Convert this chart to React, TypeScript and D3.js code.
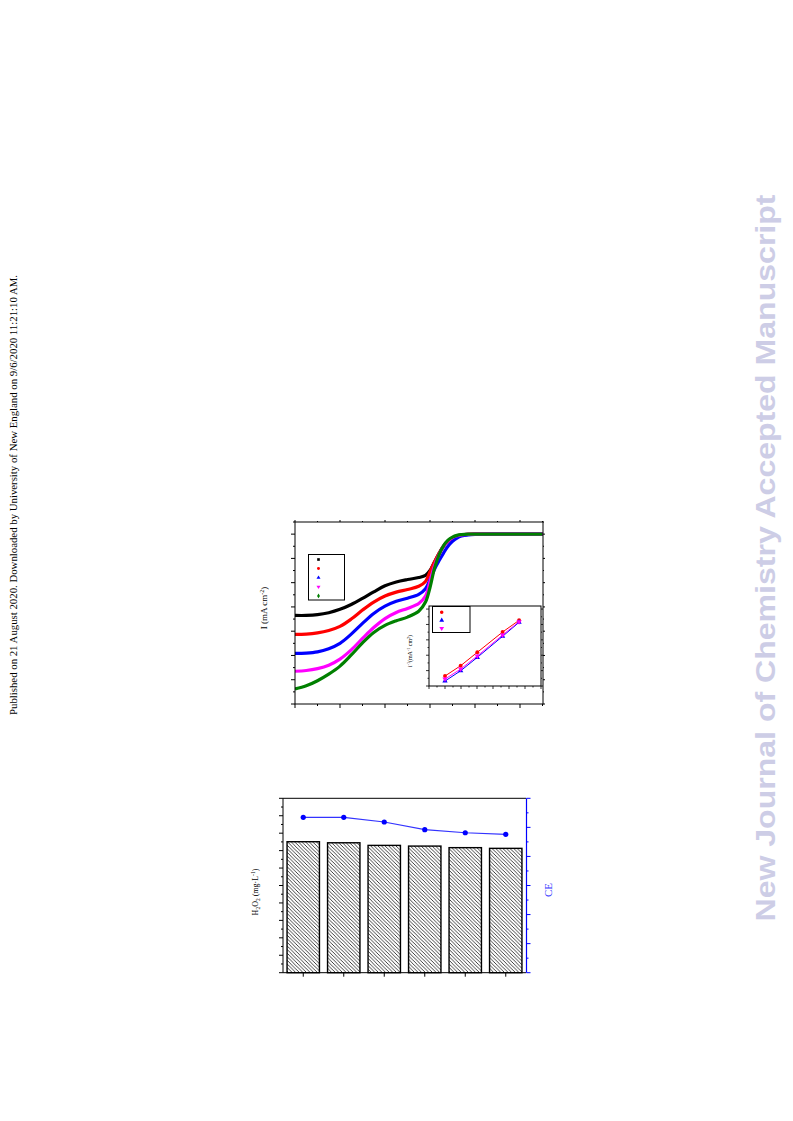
import React from "react";
import * as d3 from "d3";

// ---------- Top chart (LSV curves) ----------
const potentialGrid = [0, 0.25, 0.5, 0.75, 1.0, 1.25, 1.5, 1.75, 2.0, 2.25, 2.5, 2.75, 2.9, 3.0, 3.1, 3.2, 3.3, 3.4, 3.5, 3.6, 3.7, 3.85, 4.0, 4.5, 5.0, 5.5];
const curveBlack = [-3.35, -3.35, -3.32, -3.24, -3.1, -2.9, -2.65, -2.38, -2.13, -1.97, -1.87, -1.79, -1.7, -1.5, -1.15, -0.8, -0.5, -0.3, -0.16, -0.08, -0.04, -0.01, 0, 0, 0, 0];
const curveRed = [-4.13, -4.12, -4.07, -3.97, -3.8, -3.5, -3.13, -2.8, -2.55, -2.39, -2.28, -2.15, -1.95, -1.55, -1.15, -0.8, -0.5, -0.3, -0.16, -0.08, -0.04, -0.01, 0, 0, 0, 0];
const curveBlue = [-4.91, -4.9, -4.85, -4.72, -4.5, -4.12, -3.68, -3.27, -2.97, -2.77, -2.64, -2.48, -2.25, -1.88, -1.45, -1.1, -0.78, -0.5, -0.3, -0.16, -0.08, -0.03, -0.01, 0, 0, 0];
const curveMagenta = [-5.65, -5.62, -5.54, -5.4, -5.15, -4.77, -4.3, -3.85, -3.48, -3.23, -3.06, -2.86, -2.55, -1.95, -1.3, -0.85, -0.5, -0.28, -0.14, -0.07, -0.03, -0.01, 0, 0, 0, 0];
const curveGreen = [-6.38, -6.25, -6.04, -5.77, -5.44, -4.98, -4.48, -4.05, -3.76, -3.57, -3.42, -3.18, -2.8, -2.2, -1.4, -0.85, -0.48, -0.25, -0.12, -0.05, -0.02, 0, 0, 0, 0, 0];
const seriesColors = ["#000000", "#ff0000", "#0000ff", "#ff00ff", "#008000"];
const mainXTicks = [0, 1, 2, 3, 4, 5];
const mainYTicks = [-7, -6, -5, -4, -3, -2, -1, 0];

// inset (Koutecky-Levich)
const insetX = [1.0, 1.98, 3.02, 4.6, 5.63];
const insetRed = [0.65, 1.32, 2.19, 3.51, 4.27];
const insetBlue = [0.32, 0.99, 1.86, 3.23, 4.14];
const insetMagenta = [0.45, 1.1, 1.95, 3.31, 4.18];
const insetColors = ["#ff0000", "#0000ff", "#ff00ff"];
const insetYTicks = [0, 1, 2, 3, 4, 5];
const insetXTicks = [0, 1, 2, 3, 4, 5, 6, 7];

// ---------- Bottom chart ----------
const cycles = ["1", "2", "3", "4", "5", "6"];
const h2o2Values = [7.51, 7.45, 7.3, 7.26, 7.17, 7.13];
const ceValues = [106.9, 106.9, 103.7, 98.4, 96.3, 95.2];
const leftTicks = [0, 1, 2, 3, 4, 5, 6, 7, 8, 9, 10];
const rightTicks = [0, 20, 40, 60, 80, 100, 120];

const serif = "'Liberation Serif', 'Times New Roman', serif";

export default function App() {
  // main scales
  const x = d3.scaleLinear().domain([0, 5.5]).range([295, 542.5]);
  const y = d3.scaleLinear().domain([-7, 0.5]).range([704, 522]);
  const line = d3
    .line<[number, number]>()
    .x((d) => x(d[0]))
    .y((d) => y(d[1]))
    .curve(d3.curveCatmullRom.alpha(0.5));
  const curves = [curveBlack, curveRed, curveBlue, curveMagenta, curveGreen];
  const symbols = [d3.symbolSquare, d3.symbolCircle, d3.symbolTriangle, d3.symbolTriangle, d3.symbolDiamond];
  const symbolRot = [0, 0, 0, 180, 0];

  // inset scales
  const ix = d3.scaleLinear().domain([0, 7]).range([429, 541]);
  const iy = d3.scaleLinear().domain([0, 5.2]).range([686, 606]);
  const insetSeries = [insetRed, insetBlue, insetMagenta];
  const insetSymbols = [d3.symbolCircle, d3.symbolTriangle, d3.symbolTriangle];
  const insetRot = [0, 0, 180];
  const iline = d3
    .line<[number, number]>()
    .x((d) => ix(d[0]))
    .y((d) => iy(d[1]));

  // bottom scales
  const bx = d3.scaleBand().domain(cycles).range([283, 526]).paddingInner(0.2).paddingOuter(0.1);
  const yl = d3.scaleLinear().domain([0, 10]).range([972.7, 798.3]);
  const yr = d3.scaleLinear().domain([0, 120]).range([972.7, 798.3]);
  const ceLine = d3
    .line<number>()
    .x((_, i) => (bx(cycles[i]) as number) + bx.bandwidth() / 2)
    .y((d) => yr(d));

  const minorMainX = d3.range(0, 5.51, 0.5);
  const minorMainY = d3.range(-7, 0.51, 0.5);
  const minorLeft = d3.range(0, 10.01, 0.5);
  const minorRight = d3.range(0, 120.1, 10);
  const minorInsetY = d3.range(0, 5.21, 0.5);
  const minorInsetX = d3.range(0, 7.01, 0.5);

  return (
    <svg
      width={793}
      height={1121}
      style={{ position: "absolute", left: 0, top: 0, background: "#fff" }}
      fontFamily={serif}
    >
      <defs>
        <pattern id="hatch" patternUnits="userSpaceOnUse" width={3.6} height={3.6}>
          <path d="M-1,-1 L4.6,4.6 M-1,2.6 L1,4.6 M2.6,-1 L4.6,1" stroke="#111" strokeWidth={0.8} />
        </pattern>
        <clipPath id="mainClip">
          <rect x={295} y={522} width={248} height={182} />
        </clipPath>
      </defs>

      {/* side texts */}
      <text
        transform="translate(17,495) rotate(-90)"
        textAnchor="middle"
        fontSize={10}
        fill="#000"
        textLength={440}
        lengthAdjust="spacingAndGlyphs"
      >
        Published on 21 August 2020. Downloaded by University of New England on 9/6/2020 11:21:10 AM.
      </text>
      <text
        transform="translate(775,558) rotate(-90)"
        textAnchor="middle"
        fontSize={28}
        fontWeight="bold"
        fontFamily="'Liberation Sans', Arial, sans-serif"
        fill="#cdcde6"
        textLength={727}
        lengthAdjust="spacingAndGlyphs"
      >
        New Journal of Chemistry Accepted Manuscript
      </text>

      {/* ===== Top chart ===== */}
      <g>
        <g clipPath="url(#mainClip)">
          {curves.map((c, i) => (
            <path
              key={i}
              d={line(potentialGrid.map((p, k) => [p, c[k]] as [number, number])) as string}
              fill="none"
              stroke={seriesColors[i]}
              strokeWidth={3.2}
            />
          ))}
        </g>
        <rect x={295} y={522} width={248} height={182} fill="none" stroke="#000" strokeWidth={1} />
        {minorMainX.map((t) => {
          const major = mainXTicks.includes(t);
          return (
            <g key={"mx" + t}>
              <line x1={x(t)} x2={x(t)} y1={704} y2={704 + (major ? 4 : 2)} stroke="#000" />
              <line x1={x(t)} x2={x(t)} y1={522} y2={522 - (major ? 2 : 1)} stroke="#000" />
            </g>
          );
        })}
        {minorMainY.map((t) => {
          const major = mainYTicks.includes(t);
          return (
            <g key={"my" + t}>
              <line x1={295} x2={295 - (major ? 4 : 2)} y1={y(t)} y2={y(t)} stroke="#000" />
              <line x1={543} x2={543 + (major ? 2 : 1)} y1={y(t)} y2={y(t)} stroke="#000" />
            </g>
          );
        })}
        <text transform="translate(267,608) rotate(-90)" textAnchor="middle" fontSize={9}>
          I (mA cm<tspan dy={-3} fontSize={6}>-2</tspan>
          <tspan dy={3}>)</tspan>
        </text>
        {/* legend */}
        <rect x={308.5} y={554.5} width={36} height={45.5} fill="#fff" stroke="#000" strokeWidth={1} />
        {seriesColors.map((c, i) => (
          <path
            key={"lg" + i}
            transform={`translate(318.5,${559.5 + i * 9.1}) rotate(${symbolRot[i]})`}
            d={d3.symbol().type(symbols[i]).size(7)() as string}
            fill={c}
          />
        ))}

        {/* inset */}
        <rect x={429} y={606} width={112} height={80} fill="#fff" stroke="#000" strokeWidth={1} />
        {minorInsetY.map((t) => {
          const major = insetYTicks.includes(t);
          return (
            <g key={"iy" + t}>
              <line x1={429} x2={429 - (major ? 3 : 1.5)} y1={iy(t)} y2={iy(t)} stroke="#000" strokeWidth={0.8} />
              <line x1={541} x2={541 + (major ? 2 : 1)} y1={iy(t)} y2={iy(t)} stroke="#000" strokeWidth={0.8} />
            </g>
          );
        })}
        {minorInsetX.map((t) => {
          const major = insetXTicks.includes(t);
          return (
            <line key={"ix" + t} x1={ix(t)} x2={ix(t)} y1={686} y2={686 + (major ? 3 : 1.5)} stroke="#000" strokeWidth={0.8} />
          );
        })}
        {insetSeries.map((s, i) => (
          <g key={"is" + i}>
            <path
              d={iline(insetX.map((v, k) => [v, s[k]] as [number, number])) as string}
              fill="none"
              stroke={insetColors[i]}
              strokeWidth={1}
            />
            {insetX.map((v, k) => (
              <path
                key={k}
                transform={`translate(${ix(v)},${iy(s[k])}) rotate(${insetRot[i]})`}
                d={d3.symbol().type(insetSymbols[i]).size(12)() as string}
                fill={insetColors[i]}
              />
            ))}
          </g>
        ))}
        <rect x={432.5} y={606.5} width={37.5} height={26} fill="#fff" stroke="#000" strokeWidth={1} />
        {insetColors.map((c, i) => (
          <path
            key={"il" + i}
            transform={`translate(441.7,${612.3 + i * 8}) rotate(${insetRot[i]})`}
            d={d3.symbol().type(insetSymbols[i]).size(10)() as string}
            fill={c}
          />
        ))}
        <text transform="translate(412,651) rotate(-90)" textAnchor="middle" fontSize={6}>
          i<tspan dy={-2} fontSize={4}>-1</tspan>
          <tspan dy={2}>(mA</tspan>
          <tspan dy={-2} fontSize={4}>-1</tspan>
          <tspan dy={2}> cm</tspan>
          <tspan dy={-2} fontSize={4}>2</tspan>
          <tspan dy={2}>)</tspan>
        </text>
      </g>

      {/* ===== Bottom chart ===== */}
      <g>
        {h2o2Values.map((v, i) => (
          <rect
            key={"b" + i}
            x={bx(cycles[i]) as number}
            y={yl(v)}
            width={bx.bandwidth()}
            height={yl(0) - yl(v)}
            fill="url(#hatch)"
            stroke="#000"
            strokeWidth={1.4}
          />
        ))}
        <line x1={283} x2={526} y1={798.3} y2={798.3} stroke="#000" />
        <line x1={283} x2={526} y1={972.7} y2={972.7} stroke="#000" />
        <line x1={283} x2={283} y1={798.3} y2={972.7} stroke="#000" />
        <line x1={526.5} x2={526.5} y1={798.3} y2={972.7} stroke="#0000ff" strokeWidth={1.2} />
        {minorLeft.map((t) => {
          const major = leftTicks.includes(t);
          return (
            <line key={"lt" + t} x1={283} x2={283 - (major ? 4 : 2)} y1={yl(t)} y2={yl(t)} stroke="#000" />
          );
        })}
        {minorRight.map((t) => {
          const major = rightTicks.includes(t);
          return (
            <line key={"rt" + t} x1={526.5} x2={526.5 + (major ? 4 : 2)} y1={yr(t)} y2={yr(t)} stroke="#0000ff" />
          );
        })}
        {cycles.map((c) => {
          const cx = (bx(c) as number) + bx.bandwidth() / 2;
          return <line key={"bt" + c} x1={cx} x2={cx} y1={972.7} y2={976.7} stroke="#000" />;
        })}
        <path d={ceLine(ceValues) as string} fill="none" stroke="#3333ff" strokeWidth={1.2} />
        {ceValues.map((v, i) => (
          <circle
            key={"ce" + i}
            cx={(bx(cycles[i]) as number) + bx.bandwidth() / 2}
            cy={yr(v)}
            r={2.6}
            fill="#0000ff"
          />
        ))}
        <text transform="translate(258,892) rotate(-90)" textAnchor="middle" fontSize={8}>
          H<tspan dy={2} fontSize={5.5}>2</tspan>
          <tspan dy={-2}>O</tspan>
          <tspan dy={2} fontSize={5.5}>2</tspan>
          <tspan dy={-2}> (mg·L</tspan>
          <tspan dy={-3} fontSize={5.5}>-1</tspan>
          <tspan dy={3}>)</tspan>
        </text>
        <text transform="translate(552,890) rotate(-90)" textAnchor="middle" fontSize={11} fill="#3333ff">
          CE
        </text>
      </g>
    </svg>
  );
}
